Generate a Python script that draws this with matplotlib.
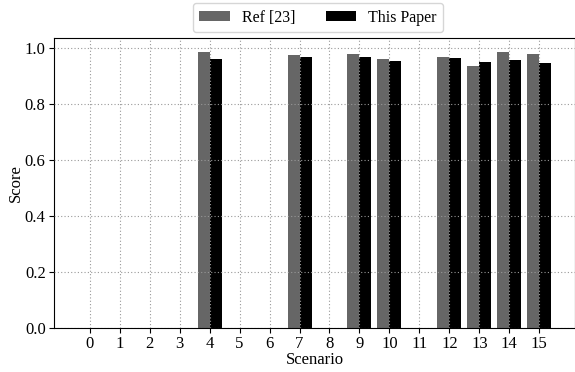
import numpy as np
import matplotlib.pyplot as plt

plt.rcParams['font.family'] = ['Liberation Serif', 'DejaVu Serif']
plt.rcParams['font.size'] = 12

scenarios = list(range(16))
ref_scores = [0, 0, 0, 0, 0.984, 0, 0, 0.975, 0, 0.977, 0.958, 0, 0.967, 0.935, 0.985, 0.978]
our_scores = [0, 0, 0, 0, 0.961, 0, 0, 0.965, 0, 0.965, 0.953, 0, 0.963, 0.948, 0.955, 0.945]

fig = plt.figure(figsize=(5.75, 3.72), dpi=100)
ax = fig.add_axes([54 / 575, 44 / 372, 521 / 575, 290 / 372])

x = np.arange(len(scenarios))
width = 0.4
ax.bar(x - width / 2, ref_scores, width, color='#666666', label='Ref [23]')
ax.bar(x + width / 2, our_scores, width, color='black', label='This Paper')

# grid drawn on top of the bars
ax.set_axisbelow(False)
ax.grid(True, linestyle=(0, (1, 2)), color='#999999', linewidth=0.8)
ax.set_xticks(x)
ax.set_xticklabels([str(s) for s in scenarios])
ax.set_yticks([0.0, 0.2, 0.4, 0.6, 0.8, 1.0])
ax.tick_params(direction='out', length=3.5, pad=2.5)

ax.set_xlabel('Scenario', labelpad=0)
ax.set_ylabel('Score', labelpad=1)

# legend sits in the strip above the axes
fig.legend(loc='upper center', bbox_to_anchor=(0.553, 1.013), ncol=2, fontsize=11.5,
           frameon=True, fancybox=True, handlelength=1.9, handleheight=0.6,
           handletextpad=0.75, columnspacing=1.9, borderpad=0.4)

fig.savefig('out.png', dpi=100)
